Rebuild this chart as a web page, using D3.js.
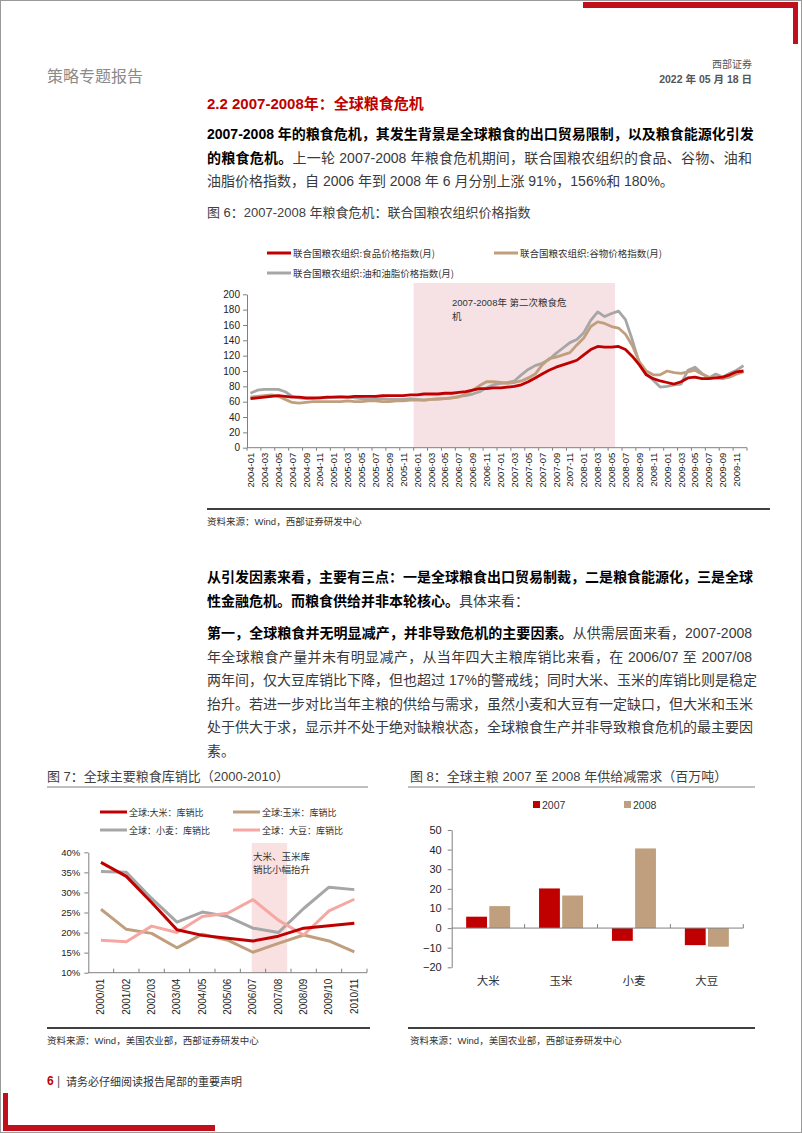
<!DOCTYPE html>
<html><head><meta charset="utf-8">
<script src="https://cdn.jsdelivr.net/npm/d3@7"></script>
<style>
body{margin:0;background:#fff;}
#page{position:relative;width:802px;height:1133px;overflow:hidden;background:#fff;font-family:"Liberation Sans","Noto Sans CJK SC",sans-serif;}
#page svg{position:absolute;left:0;top:0;}
.tl{position:absolute;left:207px;width:545px;height:20px;font-size:14px;line-height:20px;color:#3a3a3a;white-space:nowrap;}
.tl.j{text-align:justify;text-align-last:justify;}
.tl b{color:#000;font-weight:700;}
</style></head>
<body><div id="page"></div>
<script>
// ---------- DATA ----------
// Figure 6: FAO price indices, monthly 2004-01 .. 2009-12
const faoYears = [2004, 2005, 2006, 2007, 2008, 2009];
const faoFood = [
  64,65,66,67,68,67,66,66,65,65,65,66,
  66,66,66,67,67,67,67,68,68,68,68,69,
  69,70,70,70,71,71,72,73,75,77,77,78,
  78,79,80,82,86,91,96,101,105,108,111,114,
  121,128,132,131,131,132,128,119,108,95,90,87,
  85,83,86,91,92,90,90,91,92,95,99,100];
const faoCereal = [
  66,67,68,69,67,63,59,58,59,60,60,60,
  60,60,61,60,60,61,61,60,60,61,61,62,
  62,62,63,63,64,65,66,70,75,81,86,86,
  85,84,85,87,91,96,108,116,118,121,124,134,
  143,158,164,162,158,156,148,133,112,100,95,95,
  100,98,97,99,101,96,92,91,90,92,96,99];
const faoOils = [
  71,75,76,76,76,73,67,65,64,64,65,65,
  66,67,66,65,64,63,64,64,63,63,63,64,
  63,62,63,64,64,65,67,68,70,73,78,82,
  84,85,87,95,102,107,110,115,123,130,137,141,
  150,166,177,171,175,178,167,140,110,96,88,79,
  80,82,83,101,105,97,91,96,92,97,101,107];
const faoTickLabels = ["2004-01","2004-03","2004-05","2004-07","2004-09","2004-11","2005-01","2005-03","2005-05","2005-07","2005-09","2005-11","2006-01","2006-03","2006-05","2006-07","2006-09","2006-11","2007-01","2007-03","2007-05","2007-07","2007-09","2007-11","2008-01","2008-03","2008-05","2008-07","2008-09","2008-11","2009-01","2009-03","2009-05","2009-07","2009-09","2009-11"];
const faoYTicks = [0,20,40,60,80,100,120,140,160,180,200];
const faoShade = ["2006-01","2008-05"];
const faoSeriesNames = ["联合国粮农组织:食品价格指数(月)","联合国粮农组织:谷物价格指数(月)","联合国粮农组织:油和油脂价格指数(月)"];

// Figure 7: stock-to-use ratios (%)
const stuYears = ["2000/01","2001/02","2002/03","2003/04","2004/05","2005/06","2006/07","2007/08","2008/09","2009/10","2010/11"];
const stuRice    = [37.5,34.0,27.5,20.7,19.3,18.6,17.9,19.1,21.1,21.7,22.3];
const stuCorn    = [25.8,20.8,19.8,16.2,19.6,18.1,15.1,17.3,19.4,17.9,15.2];
const stuWheat   = [35.2,35.0,28.5,22.6,25.1,24.0,21.1,20.0,26.0,31.3,30.7];
const stuSoy     = [18.1,17.7,21.6,20.0,24.0,24.8,28.2,23.1,19.4,25.4,28.3];
const stuYTicks = [10,15,20,25,30,35,40];
const stuShade = ["2006/07","2007/08"];
const stuNames = ["全球:大米：库销比","全球:玉米：库销比","全球：小麦：库销比","全球：大豆：库销比"];

// Figure 8: supply minus demand (million tons)
const sdCats = ["大米","玉米","小麦","大豆"];
const sd2007 = [5.8,20.2,-6.5,-8.7];
const sd2008 = [11.2,16.6,40.6,-9.5];
const sdYTicks = [-20,-10,0,10,20,30,40,50];
const sdSeries = ["2007","2008"];

// ---------- STYLE ----------
const RED="#c00000", TAN="#c09f7e", GRAY="#a6a6a6", PINK="#f6a7a1";
const SHADE="#f6e2e4";
const FNUM='"Liberation Sans","Noto Sans CJK SC",sans-serif';
const FCJK='"Noto Sans CJK SC","Liberation Sans",sans-serif';

const page = d3.select("#page");
const svg = page.append("svg").attr("width",802).attr("height",1133);

// page frame & decorations
svg.append("rect").attr("x",0.5).attr("y",0.5).attr("width",801).attr("height",1132).attr("fill","none").attr("stroke","#9a9a9a");
svg.append("rect").attr("x",583).attr("y",2).attr("width",215).attr("height",6).attr("fill","#c0101e");
svg.append("rect").attr("x",793).attr("y",2).attr("width",5).attr("height",42).attr("fill","#c0101e");
svg.append("rect").attr("x",3).attr("y",1093).attr("width",5).attr("height",38).attr("fill","#c0101e");
svg.append("rect").attr("x",3).attr("y",1125).attr("width",212).attr("height",6).attr("fill","#c0101e");

function txt(x,y,s,opt={}){
  return svg.append("text").attr("x",x).attr("y",y).text(s)
    .attr("font-size",opt.size||12).attr("fill",opt.fill||"#333")
    .attr("font-family",opt.family||FNUM)
    .attr("font-weight",opt.weight||"normal")
    .attr("text-anchor",opt.anchor||"start")
    .attr("dominant-baseline","central");
}
txt(47,75,"策略专题报告",{size:16,fill:"#8a8a8a",family:FCJK});
txt(752,63,"西部证券",{size:10,fill:"#555",anchor:"end",family:FCJK});
txt(752,79,"2022 年 05 月 18 日",{size:10.5,fill:"#555",anchor:"end",weight:"bold"});
txt(207,103,"2.2 2007-2008年：全球粮食危机",{size:15,fill:"#c00000",weight:"bold"});

// ---------- PARAGRAPHS ----------
const paragraphs = [
  {y:134, lines:[
    [["b","2007-2008 年的粮食危机，其发生背景是全球粮食的出口贸易限制，以及粮食能源化引发"]],
    [["b","的粮食危机。"],["n","上一轮 2007-2008 年粮食危机期间，联合国粮农组织的食品、谷物、油和"]],
    [["n","油脂价格指数，自 2006 年到 2008 年 6 月分别上涨 91%，156%和 180%。"]]]},
  {y:577, lines:[
    [["b","从引发因素来看，主要有三点：一是全球粮食出口贸易制裁，二是粮食能源化，三是全球"]],
    [["b","性金融危机。而粮食供给并非本轮核心。"],["n","具体来看："]]]},
  {y:633, lines:[
    [["b","第一，全球粮食并无明显减产，并非导致危机的主要因素。"],["n","从供需层面来看，2007-2008"]],
    [["n","年全球粮食产量并未有明显减产，从当年四大主粮库销比来看，在 2006/07 至 2007/08"]],
    [["n","两年间，仅大豆库销比下降，但也超过 17%的警戒线；同时大米、玉米的库销比则是稳定"]],
    [["n","抬升。若进一步对比当年主粮的供给与需求，虽然小麦和大豆有一定缺口，但大米和玉米"]],
    [["n","处于供大于求，显示并不处于绝对缺粮状态，全球粮食生产并非导致粮食危机的最主要因"]],
    [["n","素。"]]]}
];
paragraphs.forEach(p=>{
  p.lines.forEach((ln,i)=>{
    const last = i===p.lines.length-1;
    const d = page.append("div").attr("class","tl"+(last?"":" j"))
      .style("top",(p.y+i*23.5-10)+"px");
    ln.forEach(([k,s])=>{ d.append(k==="b"?"b":"span").text(s); });
  });
});

// ---------- FIGURE 6 ----------
txt(207,212,"图 6：2007-2008 年粮食危机：联合国粮农组织价格指数",{size:13,fill:"#404040"});
svg.append("line").attr("x1",207).attr("x2",770).attr("y1",509).attr("y2",509).attr("stroke","#404040").attr("stroke-width",2);
txt(207,521,"资料来源：Wind，西部证券研发中心",{size:9.5,fill:"#333"});

const months = [];
faoYears.forEach(y=>d3.range(1,13).forEach(m=>months.push(y+"-"+String(m).padStart(2,"0"))));
const x6 = d3.scaleBand().domain(months).range([247,747]);
const y6 = d3.scaleLinear().domain([0,200]).range([447.7,294.3]);
const bw6 = x6.bandwidth();
const g6 = svg.append("g");
g6.append("rect").attr("x",x6(faoShade[0])).attr("y",283)
  .attr("width",x6(faoShade[1])+bw6-x6(faoShade[0])).attr("height",y6(0)-283).attr("fill",SHADE);
txt(452,302,"2007-2008年  第二次粮食危",{size:9.5,fill:"#333"});
txt(452,316,"机",{size:9.5,fill:"#333",family:FCJK});

const ax6 = g6.append("g").attr("transform","translate(247,0)")
  .call(d3.axisLeft(y6).tickValues(faoYTicks).tickSize(4).tickSizeOuter(0).tickPadding(3));
ax6.select(".domain").attr("stroke","#808080");
ax6.selectAll(".tick line").attr("stroke","#808080");
ax6.selectAll("text").attr("font-size",10).attr("font-family",FNUM).attr("fill","#222");

const xb6 = g6.append("g").attr("transform",`translate(0,${y6(0)})`);
xb6.append("line").attr("x1",247).attr("x2",747).attr("stroke","#808080");
xb6.selectAll("line.t").data(faoTickLabels.concat(["end"])).join("line").attr("class","t")
  .attr("x1",(d,i)=>i<faoTickLabels.length?x6(d):747).attr("x2",(d,i)=>i<faoTickLabels.length?x6(d):747)
  .attr("y1",0).attr("y2",3).attr("stroke","#808080");
xb6.selectAll("text").data(faoTickLabels).join("text")
  .attr("transform",d=>`translate(${x6(d)+bw6/2+3.5},5) rotate(-90)`)
  .attr("text-anchor","end").attr("font-size",9.5).attr("font-family",FNUM).attr("fill","#222").text(d=>d);

const line6 = d3.line().x((d,i)=>x6(months[i])+bw6/2).y(d=>y6(d)).curve(d3.curveLinear);
[[faoOils,GRAY],[faoCereal,TAN],[faoFood,RED]].forEach(([s,c])=>{
  g6.append("path").datum(s).attr("d",line6).attr("fill","none").attr("stroke",c)
    .attr("stroke-width",2.8).attr("stroke-linejoin","round");
});
// legend
const leg6 = [[faoSeriesNames[0],RED,267,253],[faoSeriesNames[1],TAN,494,253],[faoSeriesNames[2],GRAY,267,273]];
leg6.forEach(([n,c,lx,ly])=>{
  svg.append("line").attr("x1",lx).attr("x2",lx+24).attr("y1",ly).attr("y2",ly).attr("stroke",c).attr("stroke-width",3);
  txt(lx+26,ly,n,{size:9.5,fill:"#333",family:FCJK});
});

// ---------- FIGURE 7 ----------
txt(47,776,"图 7：全球主要粮食库销比（2000-2010）",{size:13,fill:"#404040"});
svg.append("line").attr("x1",47).attr("x2",368).attr("y1",787).attr("y2",787).attr("stroke","#808080").attr("stroke-width",1);
svg.append("line").attr("x1",47).attr("x2",370).attr("y1",1028).attr("y2",1028).attr("stroke","#404040").attr("stroke-width",2);
txt(47,1040,"资料来源：Wind，美国农业部，西部证券研发中心",{size:9.5,fill:"#333"});

const x7 = d3.scaleBand().domain(stuYears).range([88.3,367]);
const bw7 = x7.bandwidth();
const y7 = d3.scaleLinear().domain([10,40]).range([972.7,852.3]);
const g7 = svg.append("g");
g7.append("rect").attr("x",x7(stuShade[0])+bw7*0.45).attr("y",843)
  .attr("width",x7(stuShade[1])+bw7*0.85-(x7(stuShade[0])+bw7*0.45)).attr("height",y7(10)-843).attr("fill","#f9e1e2");
txt(253,856,"大米、玉米库",{size:9.5,fill:"#333",family:FCJK});
txt(253,869,"销比小幅抬升",{size:9.5,fill:"#333",family:FCJK});

const ax7 = g7.append("g").attr("transform","translate(88.3,0)")
  .call(d3.axisLeft(y7).tickValues(stuYTicks).tickFormat(d=>d+"%").tickSize(4).tickSizeOuter(0).tickPadding(4));
ax7.select(".domain").attr("stroke","#808080");
ax7.selectAll(".tick line").attr("stroke","#808080");
ax7.selectAll("text").attr("font-size",9.5).attr("font-family",FNUM).attr("fill","#222");
const xb7 = g7.append("g").attr("transform",`translate(0,${y7(10)})`);
xb7.append("line").attr("x1",88.3).attr("x2",367).attr("stroke","#808080");
xb7.selectAll("line.t").data(stuYears.slice(1).concat(["end"])).join("line").attr("class","t")
  .attr("x1",(d,i)=>d==="end"?367:x7(d)).attr("x2",(d,i)=>d==="end"?367:x7(d))
  .attr("y1",0).attr("y2",-4).attr("stroke","#808080");
xb7.selectAll("text").data(stuYears).join("text")
  .attr("transform",d=>`translate(${x7(d)+bw7/2+3.5},6) rotate(-90)`)
  .attr("text-anchor","end").attr("font-size",10).attr("font-family",FNUM).attr("fill","#222").text(d=>d);

const line7 = d3.line().x((d,i)=>x7(stuYears[i])+bw7/2).y(d=>y7(d));
[[stuCorn,TAN],[stuWheat,GRAY],[stuSoy,PINK],[stuRice,RED]].forEach(([s,c])=>{
  g7.append("path").datum(s).attr("d",line7).attr("fill","none").attr("stroke",c).attr("stroke-width",3).attr("stroke-linejoin","round");
});
const leg7 = [[stuNames[0],RED,100,812],[stuNames[1],TAN,233,812],[stuNames[2],GRAY,100,830],[stuNames[3],PINK,233,830]];
leg7.forEach(([n,c,lx,ly])=>{
  svg.append("line").attr("x1",lx).attr("x2",lx+27).attr("y1",ly).attr("y2",ly).attr("stroke",c).attr("stroke-width",3);
  txt(lx+29,ly,n,{size:9,fill:"#333",family:FCJK});
});

// ---------- FIGURE 8 ----------
txt(410,776,"图 8：全球主粮 2007 至 2008 年供给减需求（百万吨）",{size:13,fill:"#404040"});
svg.append("line").attr("x1",408).attr("x2",755).attr("y1",787).attr("y2",787).attr("stroke","#808080").attr("stroke-width",1);
svg.append("line").attr("x1",408).attr("x2",755).attr("y1",1028).attr("y2",1028).attr("stroke","#404040").attr("stroke-width",2);
txt(410,1040,"资料来源：Wind，美国农业部，西部证券研发中心",{size:9.5,fill:"#333"});

const x8 = d3.scaleBand().domain(sdCats).range([451.7,743.3]);
const bw8 = x8.bandwidth();
const y8 = d3.scaleLinear().domain([-20,50]).range([967.3,830]);
const g8 = svg.append("g");
const ax8 = g8.append("g").attr("transform","translate(451.7,0)")
  .call(d3.axisLeft(y8).tickValues(sdYTicks).tickSize(4).tickSizeOuter(0).tickPadding(6));
ax8.select(".domain").attr("stroke","#808080");
ax8.selectAll(".tick line").attr("stroke","#808080");
ax8.selectAll("text").attr("font-size",11).attr("font-family",FNUM).attr("fill","#222");
const xg = d3.scaleBand().domain(sdSeries).range([bw8/2-22,bw8/2+22]).paddingInner(0.1);
[[sd2007,sdSeries[0],RED],[sd2008,sdSeries[1],TAN]].forEach(([vals,k,c])=>{
  g8.selectAll(null).data(vals).join("rect")
    .attr("x",(d,i)=>x8(sdCats[i])+xg(k)).attr("width",xg.bandwidth())
    .attr("y",d=>y8(Math.max(0,d))).attr("height",d=>Math.abs(y8(d)-y8(0))).attr("fill",c);
});
const xb8 = g8.append("g").attr("transform",`translate(0,${y8(0)})`);
xb8.append("line").attr("x1",451.7).attr("x2",743.3).attr("stroke","#808080");
xb8.selectAll("line.t").data(sdCats.slice(1).concat(["end"])).join("line").attr("class","t")
  .attr("x1",d=>d==="end"?743.3:x8(d)).attr("x2",d=>d==="end"?743.3:x8(d))
  .attr("y1",0).attr("y2",-4).attr("stroke","#808080");
g8.selectAll("text.cat").data(sdCats).join("text").attr("class","cat")
  .attr("x",d=>x8(d)+bw8/2).attr("y",980).attr("text-anchor","middle").attr("dominant-baseline","central")
  .attr("font-size",11.5).attr("font-family",FCJK).attr("fill","#333").text(d=>d);
[[sdSeries[0],RED,533],[sdSeries[1],TAN,624]].forEach(([n,c,lx])=>{
  svg.append("rect").attr("x",lx).attr("y",801).attr("width",7).attr("height",7).attr("fill",c);
  txt(lx+9,805,n,{size:10.5,fill:"#333"});
});

// ---------- FOOTER ----------
txt(47,1081,"6",{size:12,fill:"#c00000",weight:"bold"});
txt(57,1081,"|",{size:12,fill:"#555"});
txt(66,1081,"请务必仔细阅读报告尾部的重要声明",{size:11,fill:"#333",family:FCJK});
</script></body></html>
